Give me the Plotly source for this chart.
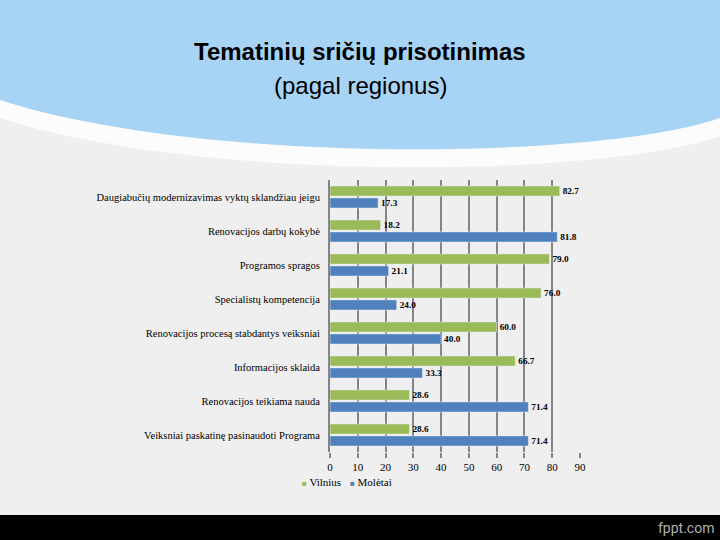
import plotly.graph_objects as go

categories = [
    "Daugiabučių modernizavimas vyktų sklandžiau jeigu",
    "Renovacijos darbų kokybė",
    "Programos spragos",
    "Specialistų kompetencija",
    "Renovacijos procesą stabdantys veiksniai",
    "Informacijos sklaida",
    "Renovacijos teikiama nauda",
    "Veiksniai paskatinę pasinaudoti Programa",
]
vilnius = [82.7, 18.2, 79.0, 76.0, 60.0, 66.7, 28.6, 28.6]
moletai = [17.3, 81.8, 21.1, 24.0, 40.0, 33.3, 71.4, 71.4]
series_names = ["Vilnius", "Molėtai"]
series_colors = ["#9bbb59", "#4f81bd"]
x_ticks = [0, 10, 20, 30, 40, 50, 60, 70, 80, 90]

W, H = 720, 540
L, R, T, B = 330, 140, 180, 88
PW, PH = W - L - R, H - T - B


def px(x):
    return (x - L) / PW


def py(y):
    return (H - B - y) / PH


serif = "Liberation Serif, Times New Roman, serif"
sans = "Liberation Sans, Arial, sans-serif"

fig = go.Figure()
for name, vals, col in zip(series_names, [vilnius, moletai], series_colors):
    fig.add_trace(go.Bar(
        y=categories, x=vals, name=name, orientation="h",
        marker=dict(color=col),
        text=[f"<b>{v:.1f}</b>" for v in vals], textposition="outside",
        textfont=dict(family=serif, size=11, color="black"),
        cliponaxis=False, showlegend=False,
    ))


def bez(p1, p2, p3):
    return (f"C {px(p1[0])},{py(p1[1])} {px(p2[0])},{py(p2[1])} "
            f"{px(p3[0])},{py(p3[1])}")


white_path = (f"M {px(0)},{py(0)} L {px(W)},{py(0)} L {px(W)},{py(136)} "
              + bez((600, 178), (200, 183), (0, 118)) + " Z")
blue_path = (f"M {px(0)},{py(0)} L {px(W)},{py(0)} L {px(W)},{py(118)} "
             + bez((600, 160), (200, 165), (0, 100)) + " Z")

shapes = [
    dict(type="path", path=white_path, xref="paper", yref="paper",
         fillcolor="rgba(252,252,252,1)", line=dict(width=0), layer="below"),
    dict(type="path", path=blue_path, xref="paper", yref="paper",
         fillcolor="#a7d3f5", line=dict(width=0), layer="below"),
    dict(type="rect", xref="paper", yref="paper",
         x0=px(0), x1=px(W), y0=py(H), y1=py(515),
         fillcolor="black", line=dict(width=0), layer="below"),
]

annotations = [
    dict(text="<b>Tematinių sričių prisotinimas</b>", xref="paper", yref="paper",
         x=px(360), y=py(52), xanchor="center", yanchor="middle", showarrow=False,
         font=dict(family=sans, size=24, color="black")),
    dict(text="(pagal regionus)", xref="paper", yref="paper",
         x=px(360), y=py(86), xanchor="center", yanchor="middle", showarrow=False,
         font=dict(family=sans, size=24, color="black")),
    dict(text="fppt.com", xref="paper", yref="paper",
         x=px(716), y=py(528), xanchor="right", yanchor="middle", showarrow=False,
         font=dict(family="Roboto, sans-serif", size=14, color="#b0b0b0")),
]

# legend entries
for lx, name, col in zip([300, 348], series_names, series_colors):
    annotations.append(dict(
        text=f"<span style='color:{col};font-size:8px'>■</span> {name}",
        xref="paper", yref="paper", x=px(lx), y=py(482),
        xanchor="left", yanchor="middle", showarrow=False,
        font=dict(family=serif, size=11, color="black")))

fig.update_layout(
    width=W, height=H,
    margin=dict(l=L, r=R, t=T, b=B, autoexpand=False),
    paper_bgcolor="#efefef",
    plot_bgcolor="rgba(0,0,0,0)",
    barmode="group", bargap=0.3, bargroupgap=0.15,
    shapes=shapes, annotations=annotations,
    showlegend=False,
    xaxis=dict(range=[0, 90], tickvals=x_ticks, showgrid=True,
               gridcolor="#858585", gridwidth=2, zeroline=False,
               ticks="outside", ticklen=5, tickwidth=2, tickcolor="#858585",
               showline=False,
               tickfont=dict(family=serif, size=11, color="black")),
    yaxis=dict(autorange="reversed", showline=True, linecolor="#858585",
               linewidth=2, showgrid=False, ticks="",
               ticklabelstandoff=6,
               tickfont=dict(family=serif, size=10.5, color="black")),
    font=dict(family=serif),
)

fig.write_html("out.html", config={"displayModeBar": False},
               post_script="document.body.style.margin='0';")
